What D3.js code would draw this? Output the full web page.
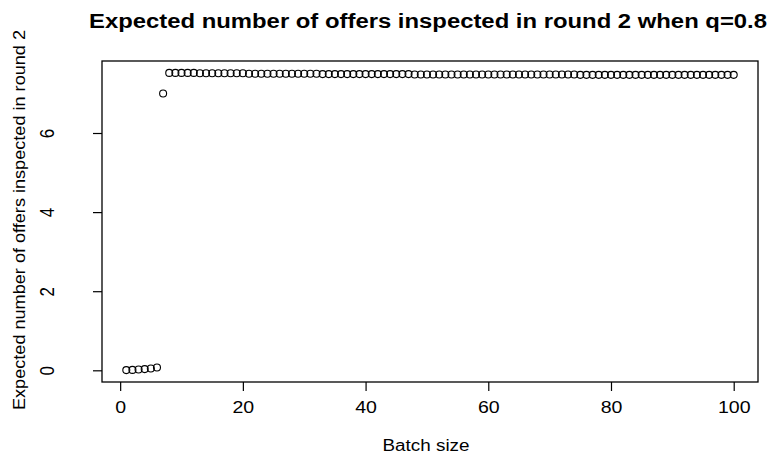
<!DOCTYPE html>
<html>
<head>
<meta charset="utf-8">
<script src="https://cdn.jsdelivr.net/npm/d3@7"></script>
<style>
  body { margin: 0; background: #fff; }
  text { font-family: "Liberation Sans", Arial, Helvetica, sans-serif; fill: #000; }
</style>
</head>
<body>
<div id="chart"></div>
<script>
// batch sizes 1..100
var batchSizes = d3.range(1, 101);

// expected number of offers inspected in round 2
var lowValues = [0.005, 0.01, 0.02, 0.03, 0.045, 0.07];   // batch 1..6
var jumpValue = [7.0];                                       // batch 7
var plateauValues = [                                        // batch 8..100
  7.52, 7.52, 7.52, 7.52, 7.52, 7.51, 7.51, 7.51, 7.51, 7.51,
  7.51, 7.51, 7.51, 7.50, 7.50, 7.50, 7.50, 7.50, 7.50, 7.50,
  7.50, 7.50, 7.50, 7.50, 7.50, 7.49, 7.49, 7.49, 7.49, 7.49,
  7.49, 7.49, 7.49, 7.49, 7.49, 7.49, 7.49, 7.49, 7.49, 7.49,
  7.48, 7.48, 7.48, 7.48, 7.48, 7.48, 7.48, 7.48, 7.48, 7.48,
  7.48, 7.48, 7.48, 7.48, 7.48, 7.48, 7.48, 7.48, 7.48, 7.48,
  7.48, 7.48, 7.48, 7.48, 7.48, 7.48, 7.48, 7.47, 7.47, 7.47,
  7.47, 7.47, 7.47, 7.47, 7.47, 7.47, 7.47, 7.47, 7.47, 7.47,
  7.47, 7.47, 7.47, 7.47, 7.47, 7.47, 7.47, 7.47, 7.47, 7.47,
  7.47, 7.47, 7.47
];
var xTicks = [0, 20, 40, 60, 80, 100];
var yTicks = [0, 2, 4, 6];

var values = lowValues.concat(jumpValue, plateauValues);
var data = batchSizes.map(function (b, i) { return { x: b, y: values[i] }; });

var width = 771, height = 455,
    plot = { left: 102, top: 61, right: 758, bottom: 382 };

// R style: data range padded by 4% each side
var xr = d3.extent(data, function (d) { return d.x; }),
    yr = d3.extent(data, function (d) { return d.y; }),
    xp = (xr[1] - xr[0]) * 0.04,
    yp = (yr[1] - yr[0]) * 0.04;

var scale_x = d3.scaleLinear().domain([xr[0] - xp, xr[1] + xp]).range([plot.left, plot.right]);
var scale_y = d3.scaleLinear().domain([yr[0] - yp, yr[1] + yp]).range([plot.bottom, plot.top]);

var svg = d3.select('#chart').append('svg')
    .attr('width', width)
    .attr('height', height);

// points
svg.append('g').selectAll('circle')
    .data(data)
    .enter()
    .append('circle')
    .attr('cx', function (d) { return scale_x(d.x); })
    .attr('cy', function (d) { return scale_y(d.y); })
    .attr('r', 3.5)
    .attr('fill', 'none')
    .attr('stroke', '#000')
    .attr('stroke-width', 1.1);

// x axis
var x_axis = d3.axisBottom(scale_x).tickValues(xTicks).tickSize(9).tickPadding(10);
var gx = svg.append('g')
    .attr('transform', 'translate(0,' + plot.bottom + ')')
    .call(x_axis);
gx.select('.domain').remove();
gx.selectAll('text')
    .style('font-size', '17px')
    .attr('font-family', null)
    .attr('transform', 'scale(1.15,1)');
gx.selectAll('line').attr('stroke', '#000').attr('stroke-width', 1.2);

// y axis
var y_axis = d3.axisLeft(scale_y).tickValues(yTicks).tickSize(9);
var gy = svg.append('g')
    .attr('transform', 'translate(' + plot.left + ',0)')
    .call(y_axis);
gy.select('.domain').remove();
gy.selectAll('line').attr('stroke', '#000').attr('stroke-width', 1.2);
gy.selectAll('text')
    .attr('x', null).attr('dy', null)
    .attr('text-anchor', 'middle')
    .attr('font-family', null)
    .style('font-size', '17px')
    .attr('transform', 'translate(-55,0) rotate(-90) scale(1,1.15)')
    .attr('y', 6);

// box
svg.append('rect')
    .attr('x', plot.left)
    .attr('y', plot.top)
    .attr('width', plot.right - plot.left)
    .attr('height', plot.bottom - plot.top)
    .attr('fill', 'none')
    .attr('stroke', '#000')
    .attr('stroke-width', 1.3);

// titles
svg.append('text')
    .text('Expected number of offers inspected in round 2 when q=0.8')
    .attr('x', 428)
    .attr('y', 28)
    .attr('text-anchor', 'middle')
    .attr('textLength', 678)
    .attr('lengthAdjust', 'spacingAndGlyphs')
    .style('font-weight', 'bold')
    .style('font-size', '20px');

svg.append('text')
    .text('Batch size')
    .attr('x', 426)
    .attr('y', 451)
    .attr('text-anchor', 'middle')
    .attr('textLength', 87)
    .attr('lengthAdjust', 'spacingAndGlyphs')
    .style('font-size', '16px');

svg.append('text')
    .text('Expected number of offers inspected in round 2')
    .attr('transform', 'translate(25,220) rotate(-90)')
    .attr('text-anchor', 'middle')
    .attr('textLength', 380)
    .attr('lengthAdjust', 'spacingAndGlyphs')
    .style('font-size', '17px');
</script>
</body>
</html>
